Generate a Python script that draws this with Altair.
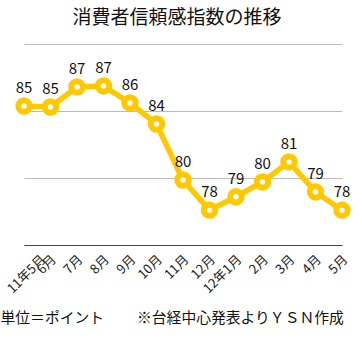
import altair as alt
import pandas as pd

months = ["11年5月", "6月", "7月", "8月", "9月", "10月", "11月", "12月",
          "12年1月", "2月", "3月", "4月", "5月"]
values = [85.37, 85.3, 86.8, 86.87, 85.6, 84.03, 79.85, 77.6, 78.6, 79.7, 81.2, 78.96, 77.6]

df = pd.DataFrame({"month": months, "value": values})

FONT = "Noto Sans CJK JP"
YELLOW = "#FFC800"

x = alt.X("month:N", sort=months,
          scale=alt.Scale(type="point", padding=0),
          axis=alt.Axis(labelAngle=315, labelAlign="right", labelBaseline="middle",
                        labelFont=FONT, labelFontSize=13, labelColor="#222",
                        labelPadding=12,
                        labelOffset={"condition": {"test": "datum.value === '11年5月'", "value": 19},
                                     "value": 3},
                        ticks=False, grid=False,
                        domainColor="#444", domainWidth=1,
                        title="単位＝ポイント　　 ※台経中心発表よりＹＳＮ作成",
                        titleFont=FONT, titleFontSize=14.8, titleFontWeight="normal",
                        titleColor="#111", titleAnchor="start", titleAlign="left",
                        titleBaseline="middle",
                        titleX=-24, titleY=73, labelOverlap=False))
y = alt.Y("value:Q",
          scale=alt.Scale(domain=[75, 90], zero=False, nice=False),
          axis=alt.Axis(values=[75, 80, 85, 90], labels=False, ticks=False,
                        domain=False, title=None, gridColor="#bbbbbb", gridWidth=1))

base = alt.Chart(df).encode(x=x, y=y)

line = base.mark_line(color=YELLOW, strokeWidth=5.5)
pts = base.mark_point(filled=True, fill="white", stroke=YELLOW, strokeWidth=6,
                      size=130, opacity=1)
labels = base.mark_text(dy=-18, font=FONT, fontSize=15, color="#111").encode(
    text=alt.Text("value:Q", format=".0f"))

chart = (line + pts + labels).properties(
    width=318, height=201,
    title=alt.TitleParams("消費者信頼感指数の推移", font=FONT, fontSize=19,
                          fontWeight="normal", color="#111", anchor="middle",
                          offset=16, dx=-6),
    autosize=alt.AutoSizeParams(type="none"),
    padding={"left": 24, "top": 44, "right": 20, "bottom": 104},
).configure_view(stroke=None)

chart.save("out.html", embed_options={"renderer": "svg", "actions": False})
